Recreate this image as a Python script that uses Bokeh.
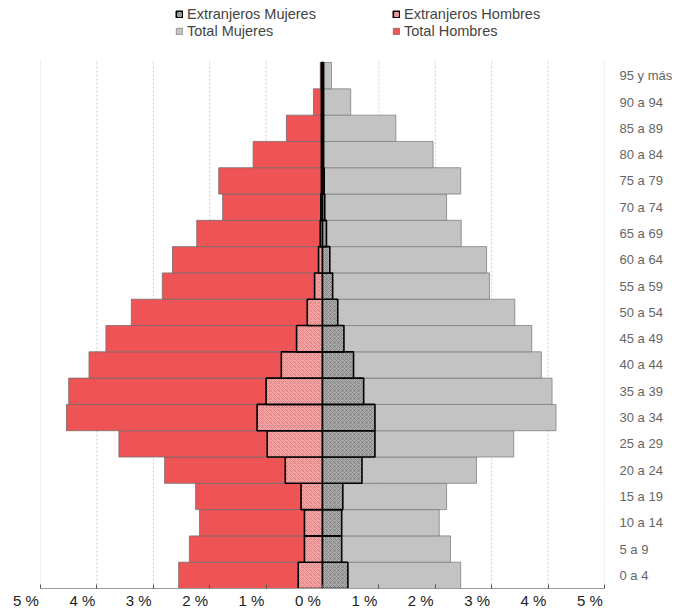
from bokeh.plotting import figure
from bokeh.models import Range1d, FixedTicker, Legend, LegendItem
from bokeh.embed import file_html
from bokeh.resources import INLINE

# ---- data (percent of total population) ----
age_groups = ["0 a 4", "5 a 9", "10 a 14", "15 a 19", "20 a 24", "25 a 29", "30 a 34",
              "35 a 39", "40 a 44", "45 a 49", "50 a 54", "55 a 59", "60 a 64", "65 a 69",
              "70 a 74", "75 a 79", "80 a 84", "85 a 89", "90 a 94", "95 y más"]
total_hombres = [2.55, 2.36, 2.18, 2.25, 2.80, 3.61, 4.54, 4.50, 4.14, 3.84, 3.39, 2.84,
                 2.66, 2.23, 1.77, 1.84, 1.23, 0.64, 0.16, 0.04]
total_mujeres = [2.45, 2.27, 2.07, 2.20, 2.73, 3.39, 4.14, 4.07, 3.88, 3.71, 3.41, 2.96,
                 2.91, 2.46, 2.20, 2.45, 1.96, 1.30, 0.50, 0.16]
extr_hombres = [0.43, 0.32, 0.32, 0.38, 0.66, 0.98, 1.16, 1.00, 0.73, 0.46, 0.27, 0.14,
                0.07, 0.04, 0.03, 0.02, 0.02, 0.02, 0.02, 0.02]
extr_mujeres = [0.45, 0.34, 0.34, 0.36, 0.70, 0.93, 0.93, 0.73, 0.55, 0.38, 0.27, 0.18,
                0.13, 0.07, 0.04, 0.03, 0.02, 0.02, 0.02, 0.02]
x_ticks = [-5, -4, -3, -2, -1, 0, 1, 2, 3, 4, 5]
x_tick_labels = ["5 %", "4 %", "3 %", "2 %", "1 %", "0 %", "1 %", "2 %", "3 %", "4 %", "5 %"]

FONT = "Liberation Sans"
PAD = "\u00a0" * 7   # labels in the reference sit to the left of their ticks

n = len(age_groups)
ypos = list(range(n))

# frame spans the whole height so the legend can sit above the bars
p = figure(width=680, height=614, output_backend="svg", toolbar_location=None,
           y_range=Range1d(-0.5, 21.86), x_range=Range1d(-5, 5), y_axis_location="right",
           min_border_left=40, min_border_right=76, min_border_top=0, min_border_bottom=26)
p.outline_line_color = None
p.background_fill_color = "white"

# vertical dashed guides over the bar area only
p.segment(x0=x_ticks, y0=[-0.5] * len(x_ticks), x1=x_ticks, y1=[n - 0.4] * len(x_ticks),
          line_color="#cccccc", line_dash="2 2", line_width=1)

neg_th = [-v for v in total_hombres]
neg_eh = [-v for v in extr_hombres]
zeros = [0] * n

r_th = p.hbar(y=ypos, left=neg_th, right=zeros, height=1.0,
              fill_color="#EE5456", line_color="#7a6a6a", line_width=0.8)
r_tm = p.hbar(y=ypos, left=zeros, right=total_mujeres, height=1.0,
              fill_color="#C3C3C3", line_color="#808080", line_width=0.8)
r_eh = p.hbar(y=ypos, left=neg_eh, right=zeros, height=1.0,
              fill_color="#F4A6A6", line_color="black", line_width=1.6,
              hatch_pattern="diagonal_cross", hatch_color="#D86060", hatch_scale=4, hatch_weight=0.5)
r_em = p.hbar(y=ypos, left=zeros, right=extr_mujeres, height=1.0,
              fill_color="#ABABAB", line_color="black", line_width=1.6,
              hatch_pattern="diagonal_cross", hatch_color="#606060", hatch_scale=4, hatch_weight=0.5)

# x axis
p.xaxis.ticker = FixedTicker(ticks=x_ticks)
p.xaxis.major_label_overrides = {t: l + PAD for t, l in zip(x_ticks, x_tick_labels)}
p.xaxis.axis_line_color = "#9a9a9a"
p.xaxis.major_tick_line_color = "#555555"
p.xaxis.major_tick_in = 4
p.xaxis.major_tick_out = 0
p.xaxis.minor_tick_line_color = None
p.xaxis.major_label_text_font = FONT
p.xaxis.major_label_text_font_size = "15px"
p.xaxis.major_label_text_color = "#222222"
p.xaxis.major_label_standoff = 3

# y axis (age groups on the right)
p.yaxis.ticker = FixedTicker(ticks=ypos)
p.yaxis.major_label_overrides = {i: g for i, g in zip(ypos, age_groups)}
p.yaxis.axis_line_color = None
p.yaxis.major_tick_line_color = None
p.yaxis.minor_tick_line_color = None
p.yaxis.major_label_text_font = FONT
p.yaxis.major_label_text_font_size = "13px"
p.yaxis.major_label_text_color = "#666666"
p.yaxis.major_label_standoff = 9

p.xgrid.grid_line_color = None
p.ygrid.grid_line_color = None

legend = Legend(items=[
    LegendItem(label="Extranjeros Mujeres", renderers=[r_em]),
    LegendItem(label="Extranjeros Hombres", renderers=[r_eh]),
    LegendItem(label="Total Mujeres", renderers=[r_tm]),
    LegendItem(label="Total Hombres", renderers=[r_th]),
], orientation="horizontal", ncols=2, location=(135, 549),
    glyph_width=8, glyph_height=8, label_height=14, label_width=204, label_standoff=4,
    spacing=1, padding=0, margin=0, border_line_color=None, background_fill_alpha=0,
    label_text_font=FONT, label_text_font_size="14.5px", label_text_color="#444444")
p.add_layout(legend)

open("out.html", "w").write(file_html(p, INLINE))
